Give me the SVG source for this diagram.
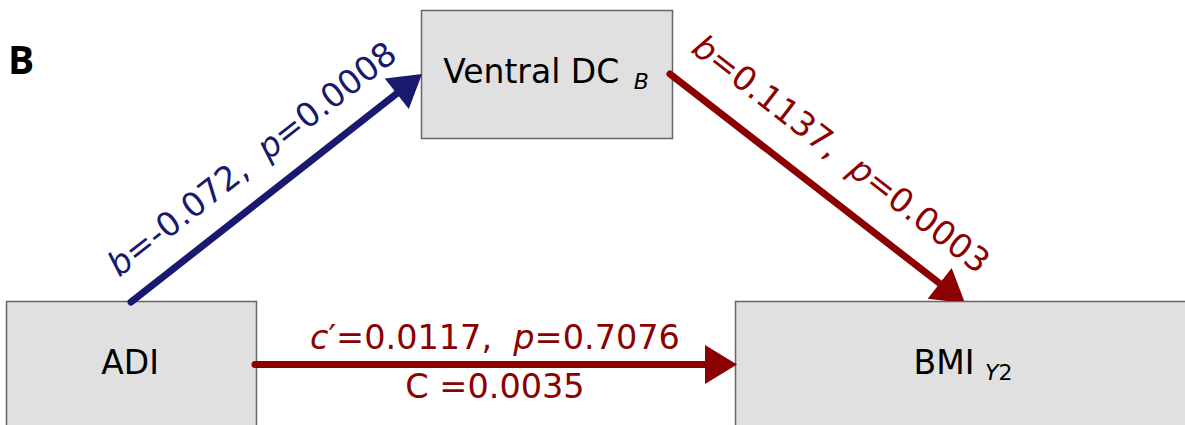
<svg xmlns="http://www.w3.org/2000/svg" width="1185" height="425" viewBox="0 0 1185 425">
  <style>
    .box { fill: #e0e0e0; stroke: #666666; stroke-width: 1.5; }
    .node-label { font-family: "DejaVu Sans", sans-serif; font-size: 33px; fill: #000000; }
    .sub { font-size: 22px; }
    .it { font-style: italic; }
    .edge { fill: none; stroke-width: 7; stroke-linecap: round; }
    .blue { stroke: #191970; }
    .red { stroke: #8b0000; }
    .head-blue { fill: #191970; }
    .head-red { fill: #8b0000; }
    .edge-label { font-family: "DejaVu Sans", sans-serif; font-size: 33.5px; text-anchor: middle; white-space: pre; }
    .lbl-blue { fill: #191970; }
    .lbl-red { fill: #8b0000; }
    .panel { font-family: "Open Sans", "Liberation Sans", sans-serif; font-weight: 700; font-size: 39px; fill: #000000; }
  </style>

  <rect width="1185" height="425" fill="#ffffff"/>

  <text class="panel" x="8" y="74">B</text>

  <!-- nodes -->
  <g id="node-ventral-dc">
    <rect class="box" x="421.5" y="10.5" width="251" height="128"/>
    <text class="node-label" x="546" y="83" text-anchor="middle">Ventral DC <tspan class="sub it" dx="4" dy="6">B</tspan></text>
  </g>
  <g id="node-adi">
    <rect class="box" x="6.5" y="301.5" width="250" height="140"/>
    <text class="node-label" x="130" y="374" text-anchor="middle">ADI</text>
  </g>
  <g id="node-bmi">
    <rect class="box" x="735.5" y="301.5" width="470" height="140"/>
    <text class="node-label" x="963" y="374" text-anchor="middle">BMI <tspan class="sub" dy="6"><tspan class="it">Y</tspan>2</tspan></text>
  </g>

  <!-- connectors -->
  <g id="connectors">
    <!-- ADI -> Ventral DC -->
    <line class="edge blue" x1="131" y1="302" x2="400" y2="91"/>
    <polygon class="head-blue" points="422,74 408.8,109 384.8,78.4"/>
    <text class="edge-label lbl-blue" xml:space="preserve" transform="translate(259,168) rotate(-38.1)"><tspan class="it">b</tspan>=-0.072,  <tspan class="it">p</tspan>=0.0008</text>

    <!-- Ventral DC -> BMI -->
    <line class="edge red" x1="670" y1="74" x2="943" y2="286"/>
    <polygon class="head-red" points="951.7,268 964.2,301 947.2,301 927.7,298.8"/>
    <text class="edge-label lbl-red" xml:space="preserve" transform="translate(834,163) rotate(37.8)"><tspan class="it">b</tspan>=0.1137,  <tspan class="it">p</tspan>=0.0003</text>

    <!-- ADI -> BMI (direct) -->
    <line class="edge red" x1="255" y1="364.5" x2="709" y2="364.5"/>
    <polygon class="head-red" points="737,364.5 705,345 705,384"/>
    <text class="edge-label lbl-red" xml:space="preserve" x="495" y="349"><tspan class="it">c</tspan>′=0.0117,  <tspan class="it">p</tspan>=0.7076</text>
    <text class="edge-label lbl-red" x="495" y="398">C =0.0035</text>
  </g>
</svg>
